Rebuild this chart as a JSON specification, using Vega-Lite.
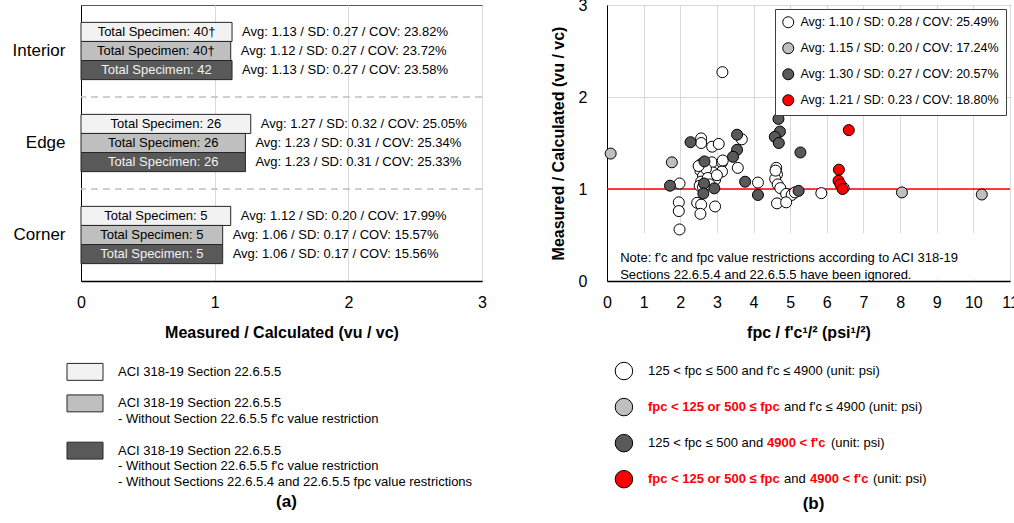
{
  "$schema": "https://vega.github.io/schema/vega-lite/v6.json",
  "background": "white",
  "padding": {"left": 11, "top": -4, "right": 0, "bottom": 0},
  "config": {
    "font": "Liberation Sans",
    "view": {"stroke": "#595959", "strokeWidth": 1},
    "axis": {"labelColor": "black", "titleColor": "black", "ticks": false, "labelOverlap": false, "labelFont": "Liberation Sans", "titleFont": "Liberation Sans"},
    "legend": {"labelFont": "Liberation Sans"},
    "title": {"font": "Liberation Sans"}
  },
  "datasets": {
    "bars": [
      {"group": "Interior", "series": "s1", "avg": 1.13, "label": "Total Specimen: 40†", "stats": "Avg: 1.13 / SD: 0.27 / COV: 23.82%"},
      {"group": "Interior", "series": "s2", "avg": 1.12, "label": "Total Specimen: 40†", "stats": "Avg: 1.12 / SD: 0.27 / COV: 23.72%"},
      {"group": "Interior", "series": "s3", "avg": 1.13, "label": "Total Specimen: 42", "stats": "Avg: 1.13 / SD: 0.27 / COV: 23.58%"},
      {"group": "Edge", "series": "s1", "avg": 1.27, "label": "Total Specimen: 26", "stats": "Avg: 1.27 / SD: 0.32 / COV: 25.05%"},
      {"group": "Edge", "series": "s2", "avg": 1.23, "label": "Total Specimen: 26", "stats": "Avg: 1.23 / SD: 0.31 / COV: 25.34%"},
      {"group": "Edge", "series": "s3", "avg": 1.23, "label": "Total Specimen: 26", "stats": "Avg: 1.23 / SD: 0.31 / COV: 25.33%"},
      {"group": "Corner", "series": "s1", "avg": 1.12, "label": "Total Specimen: 5", "stats": "Avg: 1.12 / SD: 0.20 / COV: 17.99%"},
      {"group": "Corner", "series": "s2", "avg": 1.06, "label": "Total Specimen: 5", "stats": "Avg: 1.06 / SD: 0.17 / COV: 15.57%"},
      {"group": "Corner", "series": "s3", "avg": 1.06, "label": "Total Specimen: 5", "stats": "Avg: 1.06 / SD: 0.17 / COV: 15.56%"}
    ],
    "seps": [{"group": "Interior"}, {"group": "Edge"}],
    "legA": [
      {"line": 0, "series": "s1", "text": "ACI 318-19 Section 22.6.5.5"},
      {"line": 2, "series": "s2", "text": "ACI 318-19 Section 22.6.5.5"},
      {"line": 3, "text": "- Without Section 22.6.5.5 f'c value restriction"},
      {"line": 5, "series": "s3", "text": "ACI 318-19 Section 22.6.5.5"},
      {"line": 6, "text": "- Without Section 22.6.5.5 f'c value restriction"},
      {"line": 7, "text": "- Without Sections 22.6.5.4 and 22.6.5.5 fpc value restrictions"}
    ],
    "pts": [
      {"cat": "w", "x": 3.15, "y": 2.27}, {"cat": "w", "x": 2.57, "y": 1.55}, {"cat": "w", "x": 2.57, "y": 1.50},
      {"cat": "w", "x": 2.87, "y": 1.46}, {"cat": "w", "x": 3.05, "y": 1.49}, {"cat": "w", "x": 3.68, "y": 1.54},
      {"cat": "w", "x": 2.57, "y": 1.27}, {"cat": "w", "x": 2.55, "y": 1.20}, {"cat": "w", "x": 2.62, "y": 1.14},
      {"cat": "w", "x": 2.86, "y": 1.29}, {"cat": "w", "x": 3.14, "y": 1.29}, {"cat": "w", "x": 3.14, "y": 1.19},
      {"cat": "w", "x": 2.89, "y": 1.18}, {"cat": "w", "x": 2.57, "y": 1.08}, {"cat": "w", "x": 2.89, "y": 1.08},
      {"cat": "w", "x": 2.53, "y": 1.035}, {"cat": "w", "x": 2.95, "y": 1.10}, {"cat": "w", "x": 3.57, "y": 1.23},
      {"cat": "w", "x": 1.98, "y": 1.06}, {"cat": "w", "x": 1.96, "y": 0.855}, {"cat": "w", "x": 1.96, "y": 0.76},
      {"cat": "w", "x": 1.98, "y": 0.56}, {"cat": "w", "x": 2.46, "y": 0.85}, {"cat": "w", "x": 2.57, "y": 0.83},
      {"cat": "w", "x": 2.55, "y": 0.73}, {"cat": "w", "x": 2.95, "y": 0.81}, {"cat": "w", "x": 4.12, "y": 1.07},
      {"cat": "w", "x": 4.62, "y": 1.23}, {"cat": "w", "x": 4.64, "y": 1.16}, {"cat": "w", "x": 4.59, "y": 1.11},
      {"cat": "w", "x": 4.66, "y": 1.05}, {"cat": "w", "x": 4.73, "y": 1.01}, {"cat": "w", "x": 4.89, "y": 0.946},
      {"cat": "w", "x": 5.04, "y": 0.935}, {"cat": "w", "x": 5.13, "y": 0.963}, {"cat": "w", "x": 4.64, "y": 0.844},
      {"cat": "w", "x": 4.89, "y": 0.855}, {"cat": "w", "x": 5.85, "y": 0.955}, {"cat": "w", "x": 6.46, "y": 1.01},
      {"cat": "w", "x": 2.70, "y": 1.22}, {"cat": "w", "x": 2.75, "y": 1.12}, {"cat": "w", "x": 2.62, "y": 1.02},
      {"cat": "w", "x": 4.60, "y": 1.20}, {"cat": "w", "x": 2.50, "y": 1.25}, {"cat": "w", "x": 3.00, "y": 1.15},
      {"cat": "w", "x": 2.80, "y": 1.05}, {"cat": "w", "x": 3.16, "y": 1.31},
      {"cat": "g", "x": 0.10, "y": 1.385}, {"cat": "g", "x": 1.77, "y": 1.29}, {"cat": "g", "x": 8.05, "y": 0.963}, {"cat": "g", "x": 10.23, "y": 0.94},
      {"cat": "d", "x": 2.28, "y": 1.509}, {"cat": "d", "x": 3.55, "y": 1.59}, {"cat": "d", "x": 3.55, "y": 1.426},
      {"cat": "d", "x": 3.44, "y": 1.35}, {"cat": "d", "x": 2.66, "y": 1.30}, {"cat": "d", "x": 1.72, "y": 1.036},
      {"cat": "d", "x": 2.65, "y": 1.06}, {"cat": "d", "x": 2.63, "y": 0.952}, {"cat": "d", "x": 2.93, "y": 1.007},
      {"cat": "d", "x": 3.77, "y": 1.079}, {"cat": "d", "x": 4.12, "y": 0.935}, {"cat": "d", "x": 4.68, "y": 1.762},
      {"cat": "d", "x": 4.72, "y": 1.624}, {"cat": "d", "x": 4.58, "y": 1.567}, {"cat": "d", "x": 4.69, "y": 1.50},
      {"cat": "d", "x": 5.28, "y": 1.397}, {"cat": "d", "x": 5.23, "y": 0.98},
      {"cat": "r", "x": 6.60, "y": 1.64}, {"cat": "r", "x": 6.33, "y": 1.21}, {"cat": "r", "x": 6.32, "y": 1.09},
      {"cat": "r", "x": 6.37, "y": 1.05}, {"cat": "r", "x": 6.43, "y": 1.00}
    ],
    "legB": [
      {"entry": 1, "cat": "w", "seg": "a", "emph": false, "text": "125 < fpc ≤ 500 and f'c ≤ 4900 (unit: psi)"},
      {"entry": 2, "cat": "g", "seg": "a", "emph": true, "text": "fpc < 125 or 500 ≤ fpc"},
      {"entry": 2, "cat": "g", "seg": "b", "emph": false, "text": "and f'c ≤ 4900 (unit: psi)"},
      {"entry": 3, "cat": "d", "seg": "a", "emph": false, "text": "125 < fpc ≤ 500 and"},
      {"entry": 3, "cat": "d", "seg": "c", "emph": true, "text": "4900 < f'c"},
      {"entry": 3, "cat": "d", "seg": "d", "emph": false, "text": "(unit: psi)"},
      {"entry": 4, "cat": "r", "seg": "a", "emph": true, "text": "fpc < 125 or 500 ≤ fpc"},
      {"entry": 4, "cat": "r", "seg": "b", "emph": false, "text": "and"},
      {"entry": 4, "cat": "r", "seg": "e", "emph": true, "text": "4900 < f'c"},
      {"entry": 4, "cat": "r", "seg": "f", "emph": false, "text": "(unit: psi)"}
    ]
  },
  "hconcat": [
    {
      "vconcat": [
        {
          "width": 401,
          "height": 276,
          "data": {"name": "bars"},
          "layer": [
            {
              "data": {"name": "seps"},
              "mark": {"type": "rule", "color": "#c0c0c0", "strokeWidth": 1.5, "strokeDash": [7, 5]},
              "encoding": {
                "y": {"field": "group", "type": "nominal", "bandPosition": 1, "scale": {"domain": ["Interior", "Edge", "Corner"], "paddingInner": 0, "paddingOuter": 0}, "axis": {"title": null, "domain": true, "domainColor": "black", "domainWidth": 1, "ticks": false, "labelFontSize": 17, "labelPadding": 16, "grid": false}}
              }
            },
            {
              "mark": {"type": "bar", "stroke": "#262626", "strokeWidth": 1},
              "encoding": {
                "y": {"field": "group", "type": "nominal", "scale": {"domain": ["Interior", "Edge", "Corner"], "paddingInner": 0, "paddingOuter": 0}, "axis": {"title": null, "domain": true, "domainColor": "black", "domainWidth": 1, "ticks": false, "labelFontSize": 17, "labelPadding": 16, "grid": false}},
                "yOffset": {"field": "series", "type": "nominal", "scale": {"domain": ["s1", "s2", "s3"], "paddingInner": 0, "paddingOuter": 0.91}},
                "x": {"field": "avg", "type": "quantitative", "scale": {"domain": [0, 3], "nice": false}, "axis": {"title": "Measured / Calculated (vu / vc)", "values": [0, 1, 2, 3], "tickCount": 4, "format": "d", "grid": true, "gridColor": "#d9d9d9", "domainColor": "black", "domainWidth": 1.5, "ticks": false, "labelFontSize": 16, "labelPadding": 13, "labelFlush": false, "titleFontSize": 16, "titleFontWeight": "bold", "titlePadding": 14}},
                "fill": {"field": "series", "type": "nominal", "scale": {"domain": ["s1", "s2", "s3"], "range": ["#f2f2f2", "#bfbfbf", "#595959"]}, "legend": null}
              }
            },
            {
              "transform": [{"calculate": "datum.avg / 2", "as": "mid"}],
              "mark": {"type": "text", "fontSize": 13, "align": "center", "baseline": "middle"},
              "encoding": {
                "y": {"field": "group", "type": "nominal", "scale": {"domain": ["Interior", "Edge", "Corner"], "paddingInner": 0, "paddingOuter": 0}},
                "yOffset": {"field": "series", "type": "nominal", "scale": {"domain": ["s1", "s2", "s3"], "paddingInner": 0, "paddingOuter": 0.91}},
                "x": {"field": "mid", "type": "quantitative", "scale": {"domain": [0, 3], "nice": false}},
                "text": {"field": "label"},
                "color": {"condition": {"test": "datum.series === 's3'", "value": "#f2f2f2"}, "value": "black"}
              }
            },
            {
              "mark": {"type": "text", "fontSize": 13, "align": "left", "baseline": "middle", "dx": 10, "color": "black"},
              "encoding": {
                "y": {"field": "group", "type": "nominal", "scale": {"domain": ["Interior", "Edge", "Corner"], "paddingInner": 0, "paddingOuter": 0}},
                "yOffset": {"field": "series", "type": "nominal", "scale": {"domain": ["s1", "s2", "s3"], "paddingInner": 0, "paddingOuter": 0.91}},
                "x": {"field": "avg", "type": "quantitative", "scale": {"domain": [0, 3], "nice": false}},
                "text": {"field": "stats"}
              }
            }
          ]
        },
        {
          "width": 401,
          "height": 126,
          "view": {"stroke": null},
          "data": {"name": "legA"},
          "title": {"text": "(a)", "orient": "bottom", "anchor": "middle", "fontSize": 17, "fontWeight": "bold", "color": "black", "baseline": "top", "offset": 4, "dx": 5},
          "layer": [
            {
              "transform": [{"filter": "datum.series"}],
              "mark": {"type": "point", "shape": "M-1,-0.47L1,-0.47L1,0.47L-1,0.47Z", "size": 1296, "filled": true, "stroke": "#262626", "strokeWidth": 1, "opacity": 1, "strokeOpacity": 1},
              "encoding": {
                "x": {"datum": 1, "type": "quantitative", "scale": {"domain": [0, 100]}, "axis": null},
                "y": {"field": "line", "type": "quantitative", "scale": {"domain": [-0.5, 7.5], "reverse": true}, "axis": null},
                "fill": {"field": "series", "type": "nominal", "scale": {"domain": ["s1", "s2", "s3"], "range": ["#f2f2f2", "#bfbfbf", "#595959"]}, "legend": null}
              }
            },
            {
              "mark": {"type": "text", "fontSize": 13, "align": "left", "baseline": "middle", "dx": 37, "color": "black"},
              "encoding": {
                "x": {"datum": 0, "type": "quantitative", "scale": {"domain": [0, 100]}, "axis": null},
                "y": {"field": "line", "type": "quantitative", "scale": {"domain": [-0.5, 7.5], "reverse": true}, "axis": null},
                "text": {"field": "text"}
              }
            }
          ]
        }
      ],
      "spacing": 20
    },
    {
      "vconcat": [
        {
          "width": 403,
          "height": 276,
          "encoding": {
            "x": {"type": "quantitative", "scale": {"domain": [0, 11], "nice": false}, "axis": {"title": "fpc / f'c¹/² (psi¹/²)", "values": [0, 1, 2, 3, 4, 5, 6, 7, 8, 9, 10, 11], "tickCount": 12, "format": "d", "grid": true, "gridColor": "#d9d9d9", "domainColor": "black", "domainWidth": 1.5, "ticks": false, "labelFontSize": 16, "labelPadding": 13, "labelFlush": false, "labelOverlap": false, "titleFontSize": 16, "titleFontWeight": "bold", "titlePadding": 14}},
            "y": {"type": "quantitative", "scale": {"domain": [0, 3], "nice": false}, "axis": {"title": "Measured / Calculated (vu / vc)", "values": [0, 1, 2, 3], "tickCount": 4, "format": "d", "grid": true, "gridColor": "#d9d9d9", "domainColor": "black", "domainWidth": 1, "ticks": false, "labelFontSize": 16, "labelPadding": 20, "labelFlush": false, "titleFontSize": 16, "titleFontWeight": "bold", "titlePadding": 12}}
          },
          "layer": [
            {
              "data": {"values": [{}]},
              "mark": {"type": "rect", "fill": "white"},
              "encoding": {
                "x": {"datum": 0.04},
                "x2": {"datum": 10.96},
                "y": {"datum": 0.02},
                "y2": {"datum": 0.52}
              }
            },
            {
              "data": {"values": [{}]},
              "mark": {"type": "rule", "color": "#ff0000", "strokeWidth": 1.5},
              "encoding": {"y": {"datum": 1}, "x": null}
            },
            {
              "data": {"name": "pts"},
              "mark": {"type": "circle", "size": 121, "stroke": "black", "strokeWidth": 1, "opacity": 1, "fillOpacity": 1},
              "encoding": {
                "x": {"field": "x"},
                "y": {"field": "y"},
                "fill": {"field": "cat", "type": "nominal", "scale": {"domain": ["w", "g", "d", "r"], "range": ["#ffffff", "#bfbfbf", "#595959", "#ff0000"]},
                  "legend": {"orient": "top-right", "offset": 4, "title": null, "padding": 7, "strokeColor": "#404040", "fillColor": "white", "labelFontSize": 12.5, "labelLimit": 400, "labelColor": "black", "symbolType": "circle", "symbolSize": 121, "symbolStrokeWidth": 1, "symbolStrokeColor": "black", "symbolOpacity": 1, "rowPadding": 10, "labelOffset": 6,
                    "labelExpr": "datum.label == 'w' ? 'Avg: 1.10 / SD: 0.28 / COV: 25.49%' : datum.label == 'g' ? 'Avg: 1.15 / SD: 0.20 / COV: 17.24%' : datum.label == 'd' ? 'Avg: 1.30 / SD: 0.27 / COV: 20.57%' : 'Avg: 1.21 / SD: 0.23 / COV: 18.80%'"}}
              }
            },
            {
              "data": {"values": [{}]},
              "mark": {"type": "text", "fontSize": 13, "align": "left", "baseline": "middle", "lineHeight": 17, "color": "black"},
              "encoding": {
                "x": {"datum": 0.36},
                "y": {"datum": 0.25},
                "text": {"value": ["Note: f'c and fpc value restrictions according to ACI 318-19", "Sections 22.6.5.4 and 22.6.5.5 have been ignored."]}
              }
            }
          ]
        },
        {
          "width": 403,
          "height": 137,
          "view": {"stroke": null},
          "data": {"name": "legB"},
          "title": {"text": "(b)", "orient": "bottom", "anchor": "middle", "fontSize": 17, "fontWeight": "bold", "color": "black", "baseline": "top", "offset": 6, "dx": 5},
          "layer": [
            {
              "transform": [{"filter": "datum.seg == 'a'"}],
              "mark": {"type": "circle", "size": 306, "stroke": "black", "strokeWidth": 1, "opacity": 1, "fillOpacity": 1},
              "encoding": {
                "x": {"datum": 4.2, "type": "quantitative", "scale": {"domain": [0, 100]}, "axis": null},
                "y": {"field": "entry", "type": "quantitative", "scale": {"domain": [0.5, 4.3], "reverse": true}, "axis": null},
                "fill": {"field": "cat", "type": "nominal", "scale": {"domain": ["w", "g", "d", "r"], "range": ["#ffffff", "#bfbfbf", "#595959", "#ff0000"]}, "legend": null}
              }
            },
            {
              "transform": [{"filter": "datum.seg == 'a' && !datum.emph"}],
              "mark": {"type": "text", "fontSize": 13, "align": "left", "baseline": "middle", "dx": 41, "color": "black"},
              "encoding": {"x": {"datum": 0, "type": "quantitative", "scale": {"domain": [0, 100]}, "axis": null}, "y": {"field": "entry", "type": "quantitative", "scale": {"domain": [0.5, 4.3], "reverse": true}, "axis": null}, "text": {"field": "text"}}
            },
            {
              "transform": [{"filter": "datum.seg == 'a' && datum.emph"}],
              "mark": {"type": "text", "fontSize": 13, "fontWeight": "bold", "align": "left", "baseline": "middle", "dx": 41, "color": "#ff0000"},
              "encoding": {"x": {"datum": 0, "type": "quantitative", "scale": {"domain": [0, 100]}, "axis": null}, "y": {"field": "entry", "type": "quantitative", "scale": {"domain": [0.5, 4.3], "reverse": true}, "axis": null}, "text": {"field": "text"}}
            },
            {
              "transform": [{"filter": "datum.seg == 'b'"}],
              "mark": {"type": "text", "fontSize": 13, "align": "left", "baseline": "middle", "dx": 177, "color": "black"},
              "encoding": {"x": {"datum": 0, "type": "quantitative", "scale": {"domain": [0, 100]}, "axis": null}, "y": {"field": "entry", "type": "quantitative", "scale": {"domain": [0.5, 4.3], "reverse": true}, "axis": null}, "text": {"field": "text"}}
            },
            {
              "transform": [{"filter": "datum.seg == 'c'"}],
              "mark": {"type": "text", "fontSize": 13, "fontWeight": "bold", "align": "left", "baseline": "middle", "dx": 160, "color": "#ff0000"},
              "encoding": {"x": {"datum": 0, "type": "quantitative", "scale": {"domain": [0, 100]}, "axis": null}, "y": {"field": "entry", "type": "quantitative", "scale": {"domain": [0.5, 4.3], "reverse": true}, "axis": null}, "text": {"field": "text"}}
            },
            {
              "transform": [{"filter": "datum.seg == 'd'"}],
              "mark": {"type": "text", "fontSize": 13, "align": "left", "baseline": "middle", "dx": 224, "color": "black"},
              "encoding": {"x": {"datum": 0, "type": "quantitative", "scale": {"domain": [0, 100]}, "axis": null}, "y": {"field": "entry", "type": "quantitative", "scale": {"domain": [0.5, 4.3], "reverse": true}, "axis": null}, "text": {"field": "text"}}
            },
            {
              "transform": [{"filter": "datum.seg == 'e'"}],
              "mark": {"type": "text", "fontSize": 13, "fontWeight": "bold", "align": "left", "baseline": "middle", "dx": 203, "color": "#ff0000"},
              "encoding": {"x": {"datum": 0, "type": "quantitative", "scale": {"domain": [0, 100]}, "axis": null}, "y": {"field": "entry", "type": "quantitative", "scale": {"domain": [0.5, 4.3], "reverse": true}, "axis": null}, "text": {"field": "text"}}
            },
            {
              "transform": [{"filter": "datum.seg == 'f'"}],
              "mark": {"type": "text", "fontSize": 13, "align": "left", "baseline": "middle", "dx": 266, "color": "black"},
              "encoding": {"x": {"datum": 0, "type": "quantitative", "scale": {"domain": [0, 100]}, "axis": null}, "y": {"field": "entry", "type": "quantitative", "scale": {"domain": [0.5, 4.3], "reverse": true}, "axis": null}, "text": {"field": "text"}}
            }
          ]
        }
      ],
      "spacing": 12,
      "resolve": {"scale": {"fill": "independent"}, "legend": {"fill": "independent"}}
    }
  ],
  "spacing": 62,
  "resolve": {"scale": {"fill": "independent"}, "legend": {"fill": "independent"}}
}
